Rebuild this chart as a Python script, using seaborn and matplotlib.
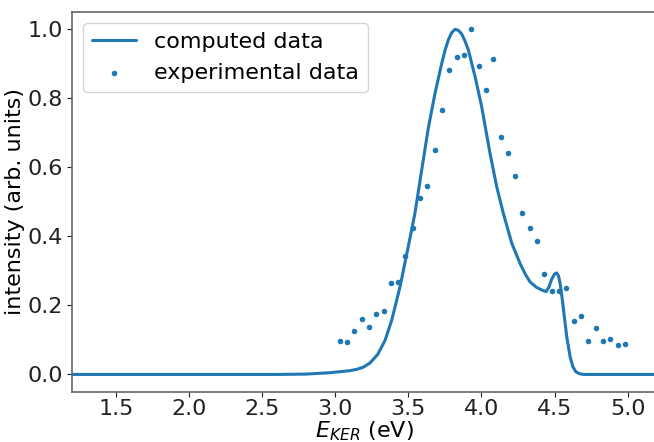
import matplotlib
matplotlib.use("Agg")
import matplotlib.pyplot as plt
import seaborn as sns
import pandas as pd

# computed curve
calc_energy = [1.20, 2.60, 2.80, 2.964, 3.101, 3.150, 3.191, 3.237, 3.290, 3.340, 3.386, 3.443,
               3.499, 3.545, 3.591, 3.636, 3.682, 3.728, 3.750, 3.773, 3.796, 3.819,
               3.842, 3.865, 3.888, 3.910, 3.956, 4.001, 4.058, 4.104, 4.149, 4.207,
               4.263, 4.300, 4.332, 4.377, 4.410, 4.441, 4.460, 4.480, 4.500, 4.514,
               4.526, 4.537, 4.548, 4.560, 4.583, 4.606, 4.625, 4.645, 4.670, 4.700,
               5.20]
calc_intensity = [0.0, 0.0, 0.001, 0.005, 0.011, 0.015, 0.021, 0.033, 0.058, 0.098, 0.157, 0.254,
                  0.370, 0.467, 0.592, 0.713, 0.814, 0.901, 0.938, 0.969, 0.990, 1.000,
                  0.997, 0.986, 0.965, 0.940, 0.863, 0.776, 0.641, 0.544, 0.467, 0.380,
                  0.322, 0.290, 0.268, 0.252, 0.245, 0.240, 0.252, 0.276, 0.291, 0.294,
                  0.286, 0.265, 0.232, 0.190, 0.109, 0.051, 0.022, 0.008, 0.002, 0.0,
                  0.0]

# experimental points
exp_energy = [3.03, 3.08, 3.13, 3.18, 3.23, 3.28, 3.33, 3.38, 3.43, 3.48,
              3.53, 3.58, 3.63, 3.68, 3.73, 3.78, 3.83, 3.88, 3.93, 3.98,
              4.03, 4.08, 4.13, 4.18, 4.23, 4.28, 4.33, 4.38, 4.43, 4.48,
              4.53, 4.58, 4.63, 4.68, 4.73, 4.78, 4.83, 4.88, 4.93, 4.98]
exp_intensity = [0.097, 0.093, 0.126, 0.162, 0.136, 0.176, 0.183, 0.264, 0.267, 0.344,
                 0.424, 0.512, 0.546, 0.649, 0.765, 0.881, 0.921, 0.926, 1.000, 0.894,
                 0.824, 0.913, 0.688, 0.641, 0.575, 0.468, 0.424, 0.387, 0.290, 0.243,
                 0.243, 0.250, 0.154, 0.170, 0.097, 0.134, 0.097, 0.103, 0.085, 0.087]

xticks = [1.5, 2.0, 2.5, 3.0, 3.5, 4.0, 4.5, 5.0]
yticks = [0.0, 0.2, 0.4, 0.6, 0.8, 1.0]

calc_df = pd.DataFrame({"E": calc_energy, "I": calc_intensity})
exp_df = pd.DataFrame({"E": exp_energy, "I": exp_intensity})

W, H = 654, 442
fig = plt.figure(figsize=(W / 100, H / 100), dpi=100)
ax = fig.add_axes([72 / W, (H - 391.7) / H, (657 - 72) / W, (391.7 - 12) / H])

blue = "#1f77b4"
sns.lineplot(data=calc_df, x="E", y="I", ax=ax, color=blue, linewidth=2.2,
             label="computed data", estimator=None)
for ln in ax.get_lines():
    ln.set_solid_joinstyle("round")
    ln.set_solid_capstyle("round")
sns.scatterplot(data=exp_df, x="E", y="I", ax=ax, color=blue, s=16,
                linewidth=0, label="experimental data")

ax.set_xlim(1.2, 5.2)
ax.set_ylim(-0.05, 1.05)
ax.set_xticks(xticks)
ax.set_xticklabels([f"{t:.1f}" for t in xticks])
ax.set_yticks(yticks)
ax.set_yticklabels([f"{t:.1f}" for t in yticks])
ax.tick_params(labelsize=16, length=3.5, width=0.8, colors="#222222", pad=3)
ax.tick_params(axis="x", pad=2)
ax.set_xlabel(r"$E_{KER}$ (eV)", fontsize=16, labelpad=0)
ax.set_ylabel("intensity (arb. units)", fontsize=16, labelpad=2)
for s in ax.spines.values():
    s.set_color("#666666")
    s.set_linewidth(1.2)

ax.legend(loc="upper left", fontsize=16, frameon=True, borderaxespad=0.5)

fig.savefig("out.png", dpi=100)
